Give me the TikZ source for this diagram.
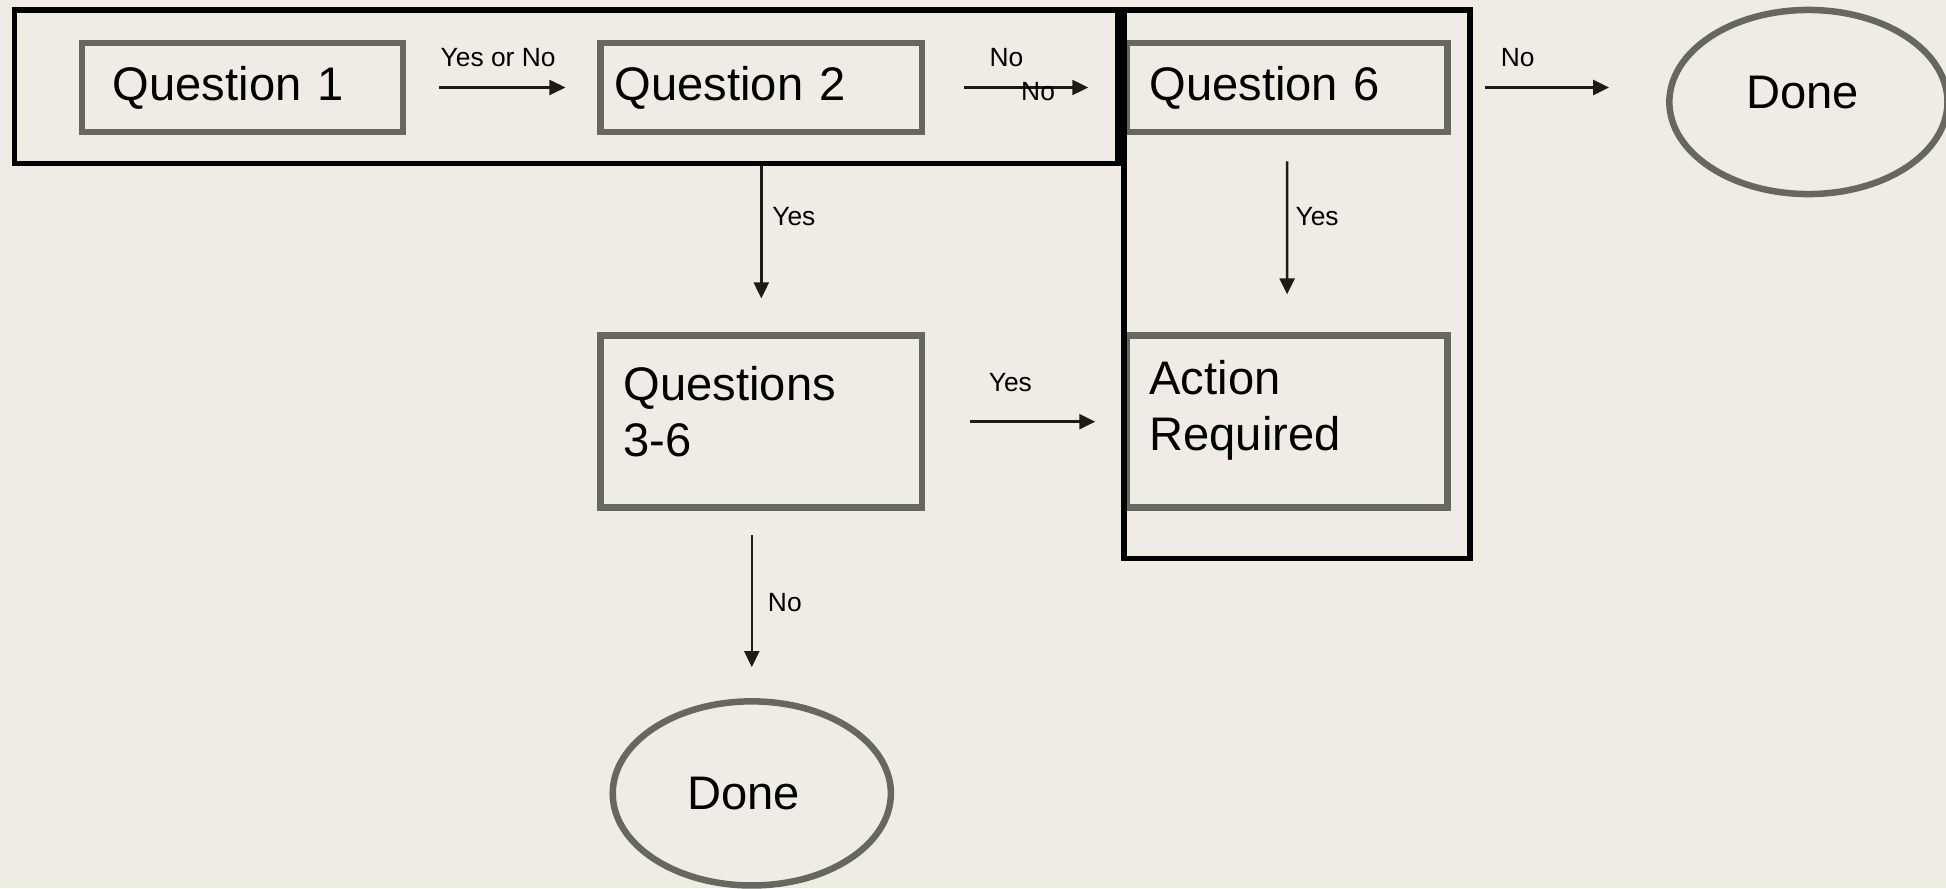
\documentclass[tikz,border=0pt]{standalone}
\usepackage{fontspec}
\setmainfont{Liberation Sans}
\usetikzlibrary{arrows.meta,positioning,shapes.geometric}
\definecolor{bgcol}{RGB}{238,236,228}
\definecolor{boxgray}{RGB}{103,103,97}
\definecolor{arrowcol}{RGB}{28,28,20}
\tikzset{
  box/.style={draw=boxgray, line width=1.85pt, align=left, inner xsep=0.23cm, text width=2.75cm, minimum height=0.89cm, font=\fontsize{13.4}{15.9}\selectfont},
  tallbox/.style={box, minimum height=1.72cm},
  donebox/.style={ellipse, draw=boxgray, line width=1.85pt, minimum width=2.78cm, minimum height=1.84cm, inner sep=0pt, font=\fontsize{13.4}{15.9}\selectfont},
  frame/.style={draw=black, line width=1.7pt},
  arrow/.style={-{Triangle[length=1.6mm,width=1.5mm]}, draw=arrowcol, line width=0.7pt},
  lbl/.style={font=\fontsize{7.5}{9}\selectfont, inner sep=0pt}
}
\begin{document}
\begin{tikzpicture}[x=0.01cm, y=-0.01cm]
\fill[bgcol] (0,0) rectangle (1946,888);
\useasboundingbox (0,0) rectangle (1946,888);
\node[box, inner xsep=0.31cm, text width=2.59cm] (q1) at (242.5,87.5) {Question 1};
\node[box, inner xsep=0.14cm, text width=2.93cm, right=1.91cm of q1] (q2) {Question 2};
\node[box, right=1.98cm of q2] (q6) {Question 6};
\node[tallbox, below=1.97cm of q2] (q36) {Questions\\3-6\rule[-5.7pt]{0pt}{5.7pt}};
\node[tallbox, right=1.98cm of q36] (act) {Action\\Required\rule[-9pt]{0pt}{9pt}};
\node[donebox, right=2.15cm of q6, yshift=-0.145cm, text depth=5.7pt] (done1) {Done\kern0.12cm};
\node[donebox, below=1.87cm of q36, xshift=-0.095cm] (done2) {Done\kern0.16cm};
\draw[frame] (14.5,10) rectangle (1118,163.5);
\draw[frame] (1124,10) rectangle (1469.5,558.5);
\draw[arrow, shorten <=3.3mm, shorten >=3.2mm] (q1) -- node[lbl, pos=.48, yshift=2.95mm] (l12) {Yes or No} (q2);
\draw[arrow, shorten <=3.9mm, shorten >=3.5mm] (q2) -- node[lbl, pos=.41, yshift=2.95mm] (l26a) {No}
  node[lbl, pos=.57, yshift=-0.4mm] (l26b) {No} (q6);
\draw[arrow, shorten <=3.4mm, shorten >=5.7mm] (q6.east) -- node[lbl, pos=.31, yshift=2.95mm] (l6d) {No} (q6.east -| done1.west);
\draw[arrow, shorten <=3.1mm, shorten >=3.4mm] (q2) -- node[lbl, pos=.41, xshift=3.25mm] (l236) {Yes} (q36);
\draw[arrow, shorten <=2.6mm, shorten >=3.8mm] (q6) -- node[lbl, pos=.41, xshift=3.0mm] (l6a) {Yes} (act);
\draw[arrow, shorten <=4.5mm, shorten >=2.8mm] (q36) -- node[lbl, pos=.43, yshift=3.9mm] (l36a) {Yes} (act);
\draw[arrow, shorten <=2.4mm, shorten >=3.1mm] (done2.north |- q36.south) -- node[lbl, pos=.49, xshift=3.3mm] (l36d) {No} (done2.north);
\end{tikzpicture}
\end{document}
